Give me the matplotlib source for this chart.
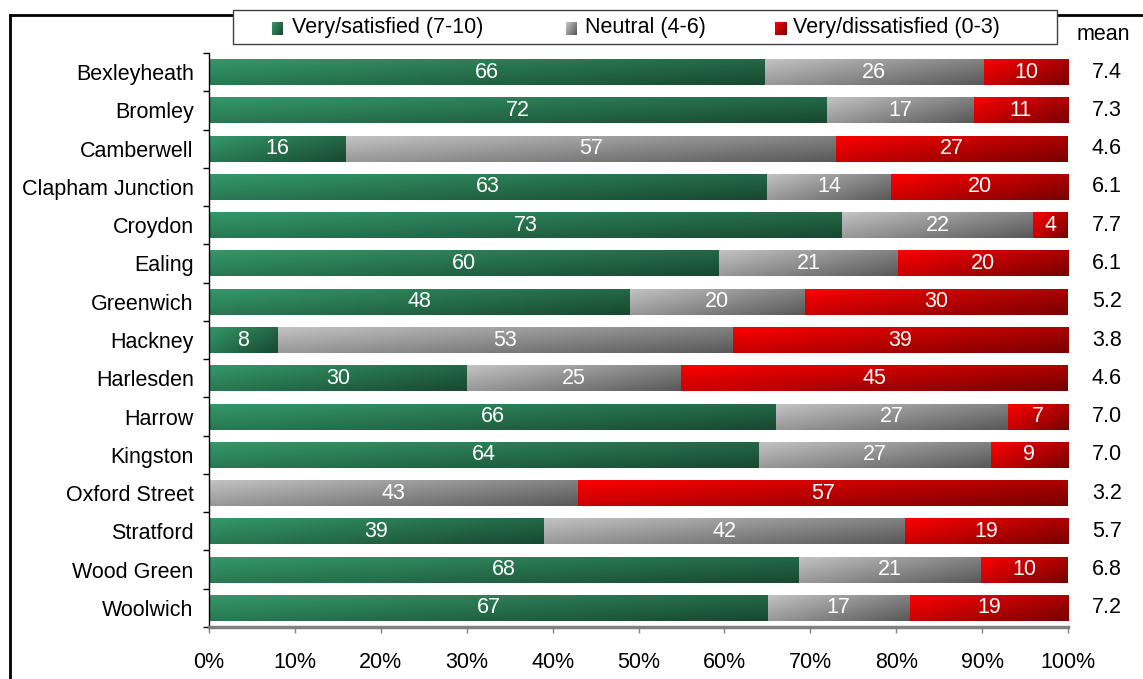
"""Stacked satisfaction bars by location, with gradient fills and a mean column."""

import matplotlib

matplotlib.use("Agg")
import matplotlib.pyplot as plt  # noqa: E402
import matplotlib.transforms as mtransforms  # noqa: E402
import numpy as np  # noqa: E402
from matplotlib.colors import to_rgb  # noqa: E402
from matplotlib.lines import Line2D  # noqa: E402
from matplotlib.patches import Rectangle  # noqa: E402

plt.rcParams["font.family"] = ["Liberation Sans", "DejaVu Sans"]

locations = [
    "Bexleyheath", "Bromley", "Camberwell", "Clapham Junction", "Croydon",
    "Ealing", "Greenwich", "Hackney", "Harlesden", "Harrow", "Kingston",
    "Oxford Street", "Stratford", "Wood Green", "Woolwich",
]
satisfied = [66, 72, 16, 63, 73, 60, 48, 8, 30, 66, 64, 0, 39, 68, 67]
neutral = [26, 17, 57, 14, 22, 21, 20, 53, 25, 27, 27, 43, 42, 21, 17]
dissatisfied = [10, 11, 27, 20, 4, 20, 30, 39, 45, 7, 9, 57, 19, 10, 19]
means = [7.4, 7.3, 4.6, 6.1, 7.7, 6.1, 5.2, 3.8, 4.6, 7.0, 7.0, 3.2, 5.7, 6.8, 7.2]

series_names = ["Very/satisfied (7-10)", "Neutral (4-6)", "Very/dissatisfied (0-3)"]
# (light top-left, dark bottom-right)
gradients = [
    ("#35996a", "#184830"),
    ("#c4c4c4", "#585858"),
    ("#ff0000", "#780000"),
]

W, H = 1143, 679


def grad_image(light, dark, ny=24, nx=160):
    a, b = np.array(to_rgb(light)), np.array(to_rgb(dark))
    xx, yy = np.meshgrid(np.linspace(0, 1, nx), np.linspace(0, 1, ny))
    t = 0.6 * xx + 0.4 * yy
    return a + (b - a) * t[..., None]


def px(x, y):
    return x / W, 1 - y / H


fig = plt.figure(figsize=(W / 100, H / 100), dpi=100)
ax = fig.add_axes([209 / W, 1 - 627 / H, 859 / W, 574 / H])

data = np.array([satisfied, neutral, dissatisfied], dtype=float)
shares = data / data.sum(axis=0)
ypos = np.arange(len(locations))
left = np.zeros(len(locations))
bar_h = 0.68

for k in range(3):
    bars = ax.barh(ypos, shares[k], left=left, height=bar_h,
                   color=gradients[k][0], linewidth=0)
    img = grad_image(*gradients[k])
    for rect, val in zip(bars, data[k]):
        if rect.get_width() <= 0:
            continue
        x0, y0 = rect.get_x(), rect.get_y()
        w, h = rect.get_width(), rect.get_height()
        im = ax.imshow(img, extent=(x0, x0 + w, y0 + h, y0), origin="upper",
                       aspect="auto", interpolation="bilinear", zorder=2)
        im.set_clip_path(rect)
        ax.text(x0 + w / 2, y0 + h / 2, f"{val:.0f}", color="white",
                ha="center", va="center", fontsize=15.5, zorder=3)
    left += shares[k]

ax.set_xlim(0, 1)
ax.set_ylim(len(locations) - 0.5, -0.5)
ax.set_yticks(ypos)
ax.set_yticklabels(locations, fontsize=15.5)
ax.set_yticks(np.arange(-0.5, len(locations)), minor=True)
ax.tick_params(axis="y", which="major", length=0, pad=11)
ax.tick_params(axis="y", which="minor", length=4, width=1, color="black")
ax.set_xticks(np.linspace(0, 1, 11))
ax.set_xticklabels([f"{v}%" for v in range(0, 101, 10)], fontsize=15.5)
ax.tick_params(axis="x", length=4, width=1, color="#808080", pad=14)
for s in ("top", "right"):
    ax.spines[s].set_visible(False)
ax.spines["left"].set_color("black")
ax.spines["left"].set_linewidth(1)
ax.spines["bottom"].set_color("#808080")
ax.spines["bottom"].set_linewidth(2.5)

# mean column
trans = mtransforms.blended_transform_factory(fig.transFigure, ax.transData)
for y, m in zip(ypos, means):
    ax.text(1107 / W, y, f"{m:.1f}", transform=trans, ha="center", va="center",
            fontsize=15.5, clip_on=False)
fig.text(*px(1103, 35), "mean", ha="center", va="center", fontsize=15.5)

# outer frame
fig.add_artist(Line2D([10 / W, 1], [1 - 15 / H, 1 - 15 / H], color="black",
                      lw=2, transform=fig.transFigure))
fig.add_artist(Line2D([10 / W, 10 / W], [0, 1 - 15 / H], color="black",
                      lw=2, transform=fig.transFigure))

# legend box
lx0, ly0 = px(233, 44)
fig.add_artist(Rectangle((lx0, ly0), (1057 - 233) / W, 34 / H,
                         transform=fig.transFigure, facecolor="white",
                         edgecolor="#404040", lw=1, zorder=5))
for (sx, tx), name, (c1, c2) in zip([(272, 292), (566, 585), (775, 793)],
                                    series_names, gradients):
    sax = fig.add_axes([sx / W, 1 - 35 / H, 11 / W, 13 / H], zorder=6)
    sax.imshow(grad_image(c1, c2, 12, 12), aspect="auto", interpolation="bilinear")
    sax.set_axis_off()
    t = fig.text(*px(tx, 28), name, ha="left", va="center", fontsize=15.5)
    t.set_zorder(7)

fig.savefig("out.png", dpi=100)
